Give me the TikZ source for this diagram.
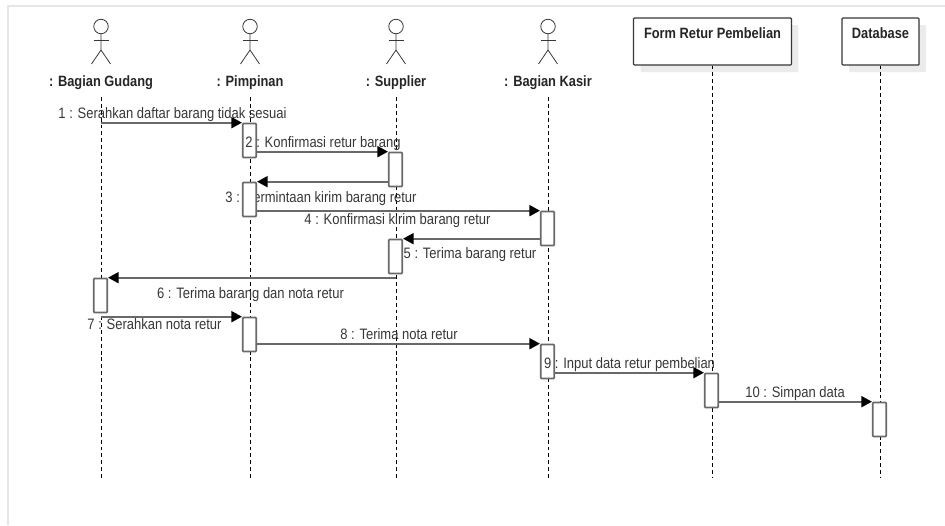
\documentclass[tikz,border=0pt]{standalone}
\usepackage{xcolor}
\usepackage{fontspec}
\setmainfont[FakeStretch=0.86]{Liberation Sans}
\usepackage{tikz}
\usetikzlibrary{arrows.meta, positioning, shadows}
\definecolor{framegray}{RGB}{230, 230, 230}
\definecolor{linegray}{RGB}{105, 105, 105}
\definecolor{textgray}{RGB}{55, 55, 55}

\begin{document}
\begin{tikzpicture}[
    x=0.02cm, y=-0.02cm,
    >=Stealth,
    head/.style={circle, draw=textgray, fill=white, line width=0.45pt, minimum size=0.29cm, inner sep=0pt},
    limb/.style={draw=textgray, line width=0.45pt},
    actorname/.style={font=\fontsize{8.5}{10}\selectfont\bfseries, text=black!85, minimum height=0.57cm, inner sep=0pt},
    objbox/.style={rectangle, draw=textgray, fill=white, line width=0.7pt, rounded corners=0.5pt, minimum height=0.94cm, text height=0.4cm, text depth=0.54cm, inner sep=0pt, font=\fontsize{8.5}{10}\selectfont\bfseries, text=black!85, drop shadow={shadow xshift=0.14cm, shadow yshift=-0.14cm, fill=framegray!80, opacity=1}},
    lifeline/.style={draw=black, line width=0.55pt, dash pattern=on 2.2pt off 1.7pt},
    bar/.style={rectangle, draw=linegray, fill=white, line width=0.95pt, rounded corners=0.5pt, minimum width=0.27cm, minimum height=0.68cm, inner sep=0pt},
    msg/.style={draw=linegray, line width=1pt, -{Triangle[length=0.21cm, width=0.22cm, black]}},
    msglabel/.style={font=\fontsize{8.6}{10}\selectfont, text=textgray, text height=0.2cm, text depth=0.06cm, inner sep=0pt},
  ]

  \useasboundingbox (0,0) rectangle (945,525);
  \draw[framegray, line width=1.3pt] (8,525) -- (8,6) -- (945,6);

  % Actors
  \foreach \n/\x/\t in {gudang/101/{: Bagian Gudang}, pimpinan/250/{: Pimpinan}, supplier/396/{: Supplier}, kasir/548/{: Bagian Kasir}} {
    \node[head] (\n head) at (\x,26.5) {};
    \draw[limb] (\n head.south) -- (\x,50) -- (\x-9.5,64);
    \draw[limb] (\x,50) -- (\x+9.5,64);
    \draw[limb] (\x-7.5,40) -- (\x+7.5,40);
    \node[actorname] (\n) at (\x,82.5) {\t};
    \coordinate (\n end) at (\x,478);
    \draw[lifeline] (\n.south) -- (\n end);
  }

  % Objects
  \node[objbox, minimum width=3.16cm] (form) at (712.5,41.5) {Form Retur Pembelian};
  \node[objbox, minimum width=1.54cm] (database) at (880.5,41.5) {Database};
  \coordinate (form end) at (712.5,478);
  \coordinate (database end) at (880.5,478);
  \draw[lifeline] (form.south) -- (form end);
  \draw[lifeline] (database.south) -- (database end);

  \node[msglabel] (m3) at (321,198.5) {3 : Permintaan kirim barang retur};

  % Activations
  \node[bar] (b1) at (249.5,140.5) {};
  \node[bar] (b2) at (395.5,169.5) {};
  \node[bar] (b3) at (249.5,199.5) {};
  \node[bar] (b4) at (547.5,228.5) {};
  \node[bar] (b5) at (395.5,256.5) {};
  \node[bar] (b6) at (100.5,295.5) {};
  \node[bar] (b7) at (249.5,334.5) {};
  \node[bar] (b8) at (547.5,361.5) {};
  \node[bar] (b9) at (711.5,390.5) {};
  \node[bar] (b10) at (879.5,419.5) {};

  % Messages
  \draw[msg] (gudang |- b1.north) -- (b1.north west);
  \draw[msg] (b1.east |- b2.north) -- (b2.north west);
  \draw[msg] (b2.west |- b3.north) -- (b3.north east);
  \draw[msg] (b3.east |- b4.north) -- (b4.north west);
  \draw[msg] (b4.west |- b5.north) -- (b5.north east);
  \draw[msg] (supplier |- b6.north) -- (b6.north east);
  \draw[msg] (gudang |- b7.north) -- (b7.north west);
  \draw[msg] (b7.east |- b8.north) -- (b8.north west);
  \draw[msg] (b8.east |- b9.north) -- (b9.north west);
  \draw[msg] (b9.east |- b10.north) -- (b10.north west);

  % Labels
  \node[msglabel] (m1) at (172.5,114.5) {1 : Serahkan daftar barang tidak sesuai};
  \node[msglabel] (m2) at (323,143.5) {2 : Konfirmasi retur barang};
  \node[msglabel] (m4) at (397.5,220.5) {4 : Konfirmasi kirim barang retur};
  \node[msglabel] (m5) at (470,254.5) {5 : Terima barang retur};
  \node[msglabel] (m6) at (250.5,294.5) {6 : Terima barang dan nota retur};
  \node[msglabel] (m7) at (154.5,325.5) {7 : Serahkan nota retur};
  \node[msglabel] (m8) at (399,335.5) {8 : Terima nota retur};
  \node[msglabel] (m9) at (629.5,364.5) {9 : Input data retur pembelian};
  \node[msglabel] (m10) at (795,393.5) {10 : Simpan data};

\end{tikzpicture}
\end{document}
